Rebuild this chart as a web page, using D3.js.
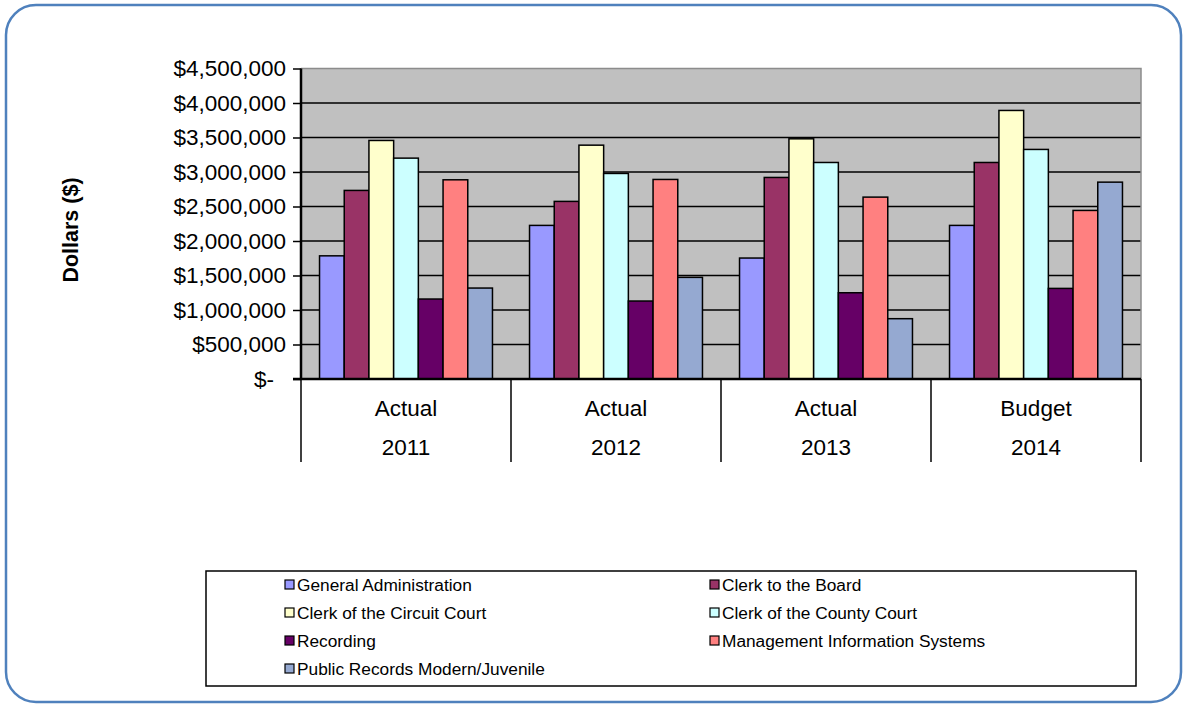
<!DOCTYPE html>
<html>
<head>
<meta charset="utf-8">
<script src="https://cdn.jsdelivr.net/npm/d3@7"></script>
<style>
  html, body { margin: 0; padding: 0; background: #fff; }
  svg { display: block; font-family: "Liberation Sans", Arial, sans-serif; }
</style>
</head>
<body>
<svg id="chart" width="1183" height="705"></svg>
<script>
// Budget by division, fiscal years 2011-2014
const periods = ["Actual", "Actual", "Actual", "Budget"];
const years = ["2011", "2012", "2013", "2014"];
const seriesNames = [
  "General Administration",
  "Clerk to the Board",
  "Clerk of the Circuit Court",
  "Clerk of the County Court",
  "Recording",
  "Management Information Systems",
  "Public Records Modern/Juvenile"
];
const seriesColors = ["#9999FF", "#993366", "#FFFFCC", "#CCFFFF", "#660066", "#FF8080", "#95A9D1"];

const generalAdministration = [1785000, 2226000, 1753000, 2226000];
const clerkToTheBoard       = [2733000, 2574000, 2921000, 3138000];
const clerkCircuitCourt     = [3457000, 3389000, 3481000, 3892000];
const clerkCountyCourt      = [3201000, 2979000, 3138000, 3327000];
const recording             = [1159000, 1130000, 1250000, 1313000];
const managementInfoSystems = [2887000, 2892000, 2636000, 2443000];
const publicRecords         = [1318000, 1473000,  874000, 2853000];

const yTicks = [0, 500000, 1000000, 1500000, 2000000, 2500000, 3000000, 3500000, 4000000, 4500000];

const seriesValues = [
  generalAdministration, clerkToTheBoard, clerkCircuitCourt, clerkCountyCourt,
  recording, managementInfoSystems, publicRecords
];

const svg = d3.select("#chart");

// outer rounded frame
svg.append("rect")
  .attr("x", 6).attr("y", 5).attr("width", 1175).attr("height", 697)
  .attr("rx", 30).attr("ry", 30)
  .attr("fill", "#fff").attr("stroke", "#4F81BD").attr("stroke-width", 2.5);

const plot = { left: 301, right: 1141, top: 68.5, bottom: 379 };

const x0 = d3.scaleBand().domain(years).range([plot.left, plot.right]).paddingInner(0).paddingOuter(0);
const x1 = d3.scaleBand().domain(d3.range(seriesNames.length)).range([0, x0.bandwidth()])
  .paddingInner(0).paddingOuter(0.75);
const y = d3.scaleLinear().domain([0, 4500000]).range([plot.bottom, plot.top]);

// plot background
svg.append("rect")
  .attr("x", plot.left).attr("y", plot.top)
  .attr("width", plot.right - plot.left).attr("height", plot.bottom - plot.top)
  .attr("fill", "#C0C0C0");

// gridlines
svg.append("g").selectAll("line")
  .data(yTicks.filter(d => d > 0 && d < 4500000))
  .join("line")
  .attr("x1", plot.left).attr("x2", plot.right)
  .attr("y1", d => y(d)).attr("y2", d => y(d))
  .attr("stroke", "#000").attr("stroke-width", 1.5);

// plot frame (top / right)
svg.append("path")
  .attr("d", `M${plot.left},${plot.top}H${plot.right}V${plot.bottom}`)
  .attr("fill", "none").attr("stroke", "#8C8C8C").attr("stroke-width", 1.5);

// bars
const groups = svg.append("g").selectAll("g")
  .data(years)
  .join("g")
  .attr("transform", d => `translate(${x0(d)},0)`);

groups.selectAll("rect")
  .data((yr, gi) => seriesValues.map((vals, si) => ({ si, v: vals[gi] })))
  .join("rect")
  .attr("x", d => x1(d.si))
  .attr("width", x1.bandwidth())
  .attr("y", d => y(d.v))
  .attr("height", d => y(0) - y(d.v))
  .attr("fill", d => seriesColors[d.si])
  .attr("stroke", "#000").attr("stroke-width", 1.5);

// value axis
const yAxis = d3.axisLeft(y)
  .tickValues(yTicks)
  .tickSize(8)
  .tickPadding(7)
  .tickFormat(d => d === 0 ? "$-" : "$" + d3.format(",")(d));

const yg = svg.append("g").attr("transform", `translate(${plot.left},0)`).call(yAxis);
yg.select(".domain").attr("stroke", "#000").attr("stroke-width", 2.5).attr("d", `M0,${plot.top}V${plot.bottom}`);
yg.selectAll(".tick line").attr("stroke", "#000").attr("stroke-width", 1.5);
yg.selectAll(".tick text")
  .attr("font-size", 22.5).attr("fill", "#000")
  .attr("font-family", "'Liberation Sans', Arial, sans-serif")
  .attr("dx", d => d === 0 ? -12 : 0);

// category axis (two levels)
const axisBottom = plot.bottom;
svg.append("line")
  .attr("x1", plot.left - 8).attr("x2", plot.right)
  .attr("y1", axisBottom).attr("y2", axisBottom)
  .attr("stroke", "#000").attr("stroke-width", 2.5);

const dividers = years.map(d => x0(d)).concat([x0(years[years.length - 1]) + x0.bandwidth()]);
svg.append("g").selectAll("line")
  .data(dividers)
  .join("line")
  .attr("x1", d => d).attr("x2", d => d)
  .attr("y1", axisBottom).attr("y2", 462)
  .attr("stroke", "#000").attr("stroke-width", 1.5);

const catLabels = svg.append("g").attr("font-size", 22.5).attr("text-anchor", "middle").attr("fill", "#000");
catLabels.selectAll("text.period")
  .data(years)
  .join("text")
  .attr("class", "period")
  .attr("x", d => x0(d) + x0.bandwidth() / 2)
  .attr("y", 416)
  .text((d, i) => periods[i]);
catLabels.selectAll("text.year")
  .data(years)
  .join("text")
  .attr("class", "year")
  .attr("x", d => x0(d) + x0.bandwidth() / 2)
  .attr("y", 455)
  .text(d => d);

// value axis title
svg.append("text")
  .attr("transform", "translate(78,230) rotate(-90)")
  .attr("text-anchor", "middle")
  .attr("font-size", 21.5).attr("font-weight", "bold")
  .text("Dollars ($)");

// legend
const legend = svg.append("g");
legend.append("rect")
  .attr("x", 206).attr("y", 571).attr("width", 930).attr("height", 115)
  .attr("fill", "#fff").attr("stroke", "#000").attr("stroke-width", 1.5);

const legendItems = legend.selectAll("g.item")
  .data(seriesNames)
  .join("g")
  .attr("class", "item")
  .attr("transform", (d, i) => `translate(${i % 2 === 0 ? 285 : 710},${585 + Math.floor(i / 2) * 28})`);

legendItems.append("rect")
  .attr("x", 0).attr("y", -5).attr("width", 9).attr("height", 9)
  .attr("fill", (d, i) => seriesColors[i])
  .attr("stroke", "#000").attr("stroke-width", 1.2);

legendItems.append("text")
  .attr("x", 12).attr("y", 6)
  .attr("font-size", 17.3)
  .text(d => d);
</script>
</body>
</html>
